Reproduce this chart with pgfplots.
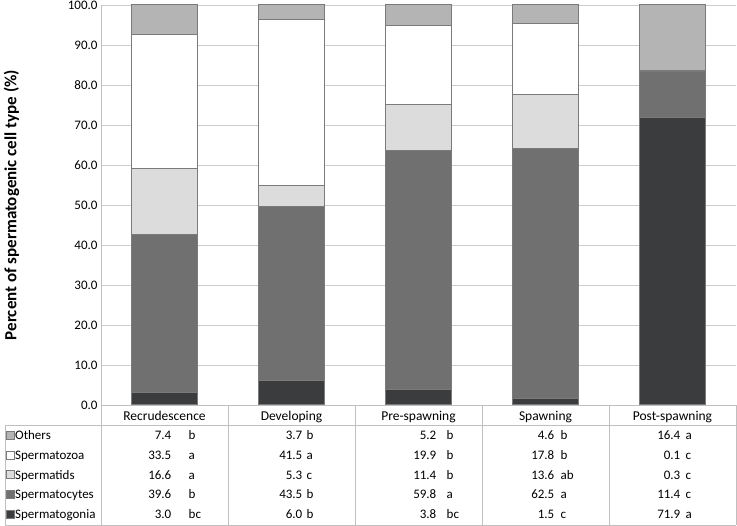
\documentclass[border=0pt]{standalone}
\usepackage{pgfplots}
\pgfplotsset{compat=1.18}
\usepackage{pgfplotstable}
\usepackage{fontspec}
\setmainfont{Carlito}

\definecolor{cothers}{HTML}{B4B4B4}
\definecolor{czoa}{HTML}{FFFFFF}
\definecolor{ctids}{HTML}{DCDCDC}
\definecolor{ccytes}{HTML}{707070}
\definecolor{cgonia}{HTML}{3A3C3E}
\definecolor{cedge}{HTML}{7A7A7A}
\definecolor{cline}{HTML}{BFBFBF}

% stage, then the five cell types from the bottom of the bar up
\pgfplotstableread{
x gonia cytes tids zoa others
0 3.0  39.6 16.6 33.5 7.4
1 6.0  43.5 5.3  41.5 3.7
2 3.8  59.8 11.4 19.9 5.2
3 1.5  62.5 13.6 17.8 4.6
4 71.9 11.4 0.3  0.1  16.4
}\cells

\begin{document}
\begin{tikzpicture}
\path[use as bounding box] (-101pt,-121pt) rectangle (636pt,405pt);
\begin{axis}[at={(0pt,0pt)}, anchor=south west,
  scale only axis, width=635pt, height=400pt,
  xmin=-0.5, xmax=4.5, ymin=0, ymax=100,
  ybar stacked, bar width=66pt,
  xtick={0,...,4},
  xticklabels={Recrudescence,Developing,Pre-spawning,Spawning,Post-spawning},
  xticklabel style={anchor=base, yshift=-16pt, font=\fontsize{13.5}{15}\selectfont},
  ytick={0,10,...,100},
  yticklabel style={font=\fontsize{13}{15}\selectfont,
    /pgf/number format/fixed, /pgf/number format/fixed zerofill,
    /pgf/number format/precision=1, /pgf/number format/assume math mode=true},
  major tick length=0pt,
  ymajorgrids, grid style={draw=black!20, line width=0.8pt},
  axis line style={draw=none},
  ylabel={Percent of spermatogenic cell type (\%)},
  ylabel style={at={(axis description cs:-0.141,0.5)}, anchor=center,
    font=\bfseries\fontsize{17}{19}\selectfont},
  every axis plot/.append style={draw=cedge, line width=1pt},
]
\addplot[fill=cgonia] table[x=x,y=gonia]{\cells};
\addplot[fill=ccytes] table[x=x,y=cytes]{\cells};
\addplot[fill=ctids] table[x=x,y=tids]{\cells};
\addplot[fill=czoa] table[x=x,y=zoa]{\cells};
\addplot[fill=cothers] table[x=x,y=others]{\cells};
\end{axis}

% data table under the plot
\begin{scope}[draw=cline, line width=0.8pt]
\draw (0pt,400pt) -- (0pt,-120pt);
\draw (0pt,0pt) -- (635pt,0pt);
\draw (-96pt,-20pt) -- (635pt,-20pt);
\draw (-96pt,-120pt) -- (635pt,-120pt);
\draw (-96pt,-20pt) -- (-96pt,-120pt);
\foreach \k in {127,254,381,508,635} \draw (\k pt,0pt) -- (\k pt,-120pt);
\end{scope}

\begin{scope}[font=\fontsize{13}{15}\selectfont]
\foreach \r/\name/\col in {0/Others/cothers,1/Spermatozoa/czoa,2/Spermatids/ctids,
    3/Spermatocytes/ccytes,4/Spermatogonia/cgonia}{
  \filldraw[fill=\col, draw=cedge, line width=0.6pt]
    (-95pt,{-34.5pt-19.6pt*\r}) rectangle ++(8pt,8pt);
  \node[anchor=base west, inner sep=0pt] at (-86pt,{-35pt-19.6pt*\r}) {\name};
}
% Recrudescence
\foreach \r/\v/\l in {0/7.4/b,1/33.5/a,2/16.6/a,3/39.6/b,4/3.0/bc}{
  \node[anchor=base east, inner sep=0pt] at (70.5pt,{-35pt-19.6pt*\r}) {\v};
  \node[anchor=base west, inner sep=0pt] at (87.5pt,{-35pt-19.6pt*\r}) {\l};
}
% Developing
\foreach \r/\v/\l in {0/3.7/b,1/41.5/a,2/5.3/c,3/43.5/b,4/6.0/b}{
  \node[anchor=base east, inner sep=0pt] at (201.5pt,{-35pt-19.6pt*\r}) {\v};
  \node[anchor=base west, inner sep=0pt] at (205.5pt,{-35pt-19.6pt*\r}) {\l};
}
% Pre-spawning
\foreach \r/\v/\l in {0/5.2/b,1/19.9/b,2/11.4/b,3/59.8/a,4/3.8/bc}{
  \node[anchor=base east, inner sep=0pt] at (335.5pt,{-35pt-19.6pt*\r}) {\v};
  \node[anchor=base west, inner sep=0pt] at (345.5pt,{-35pt-19.6pt*\r}) {\l};
}
% Spawning
\foreach \r/\v/\l in {0/4.6/b,1/17.8/b,2/13.6/ab,3/62.5/a,4/1.5/c}{
  \node[anchor=base east, inner sep=0pt] at (453.5pt,{-35pt-19.6pt*\r}) {\v};
  \node[anchor=base west, inner sep=0pt] at (459.5pt,{-35pt-19.6pt*\r}) {\l};
}
% Post-spawning
\foreach \r/\v/\l in {0/16.4/a,1/0.1/c,2/0.3/c,3/11.4/c,4/71.9/a}{
  \node[anchor=base east, inner sep=0pt] at (579.5pt,{-35pt-19.6pt*\r}) {\v};
  \node[anchor=base west, inner sep=0pt] at (584.5pt,{-35pt-19.6pt*\r}) {\l};
}
\end{scope}
\end{tikzpicture}
\end{document}
